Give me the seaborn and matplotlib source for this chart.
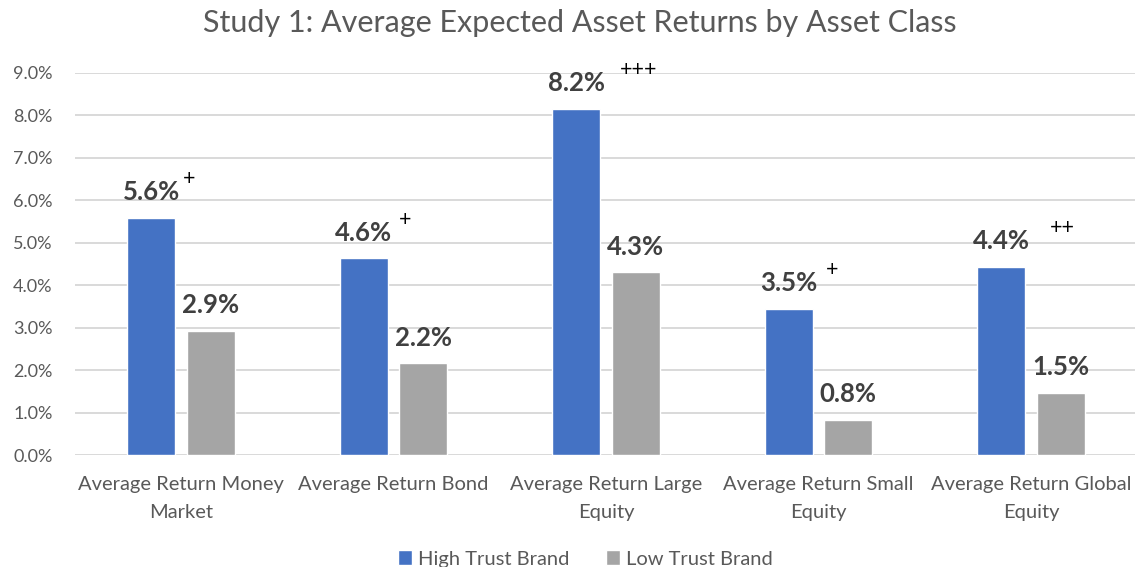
"""Study 1 chart: average expected asset returns by asset class and brand trust."""

import textwrap

import matplotlib.pyplot as plt
import pandas as pd
import seaborn as sns
from matplotlib.patches import Patch
from matplotlib.ticker import FuncFormatter

# ── Data ─────────────────────────────────────────────────────────────────────
categories = [
    "Average Return Money Market",
    "Average Return Bond",
    "Average Return Large Equity",
    "Average Return Small Equity",
    "Average Return Global Equity",
]
brands = ["High Trust Brand", "Low Trust Brand"]
high_trust = [5.59, 4.63, 8.15, 3.45, 4.44]   # percent
low_trust = [2.93, 2.16, 4.30, 0.84, 1.47]    # percent
significance = ["+", "+", "+++", "+", "++"]
y_ticks = list(range(0, 10))

# ── Style ────────────────────────────────────────────────────────────────────
BLUE = "#4472C4"
GRAY = "#A5A5A5"
TEXT = "#595959"
LABEL = "#404040"
GRID = "#D9D9D9"
sig_dx = [27, 30, 45, 31, 44]  # horizontal offset of the "+" marks, points

sns.set_theme(style="white")
plt.rcParams["font.family"] = ["Lato", "DejaVu Sans"]

df = pd.DataFrame({
    "category": categories * 2,
    "brand": [brands[0]] * len(categories) + [brands[1]] * len(categories),
    "value": high_trust + low_trust,
})

W, H = 1135, 567
fig = plt.figure(figsize=(W / 100, H / 100), dpi=100)
ax = fig.add_axes([74.75 / W, 111.8 / H, 1062.5 / W, 382.5 / H])

sns.barplot(
    data=df, x="category", y="value", hue="brand",
    palette=[BLUE, GRAY], saturation=1, width=0.56, gap=0.2,
    ax=ax, errorbar=None,
)

# value labels
for cont in ax.containers:
    ax.bar_label(cont, fmt="{:.1f}%", padding=10, fontsize=18.5,
                 fontweight="bold", color=LABEL)

# significance marks next to the high-trust labels
for bar, mark, dx in zip(ax.containers[0], significance, sig_dx):
    ax.annotate(
        mark, (bar.get_x() + bar.get_width() / 2, bar.get_height()),
        xytext=(dx, 28), textcoords="offset points",
        ha="center", va="center", fontsize=15.5, color="black",
    )

# axes
ax.set_ylim(0, 9)
ax.set_yticks(y_ticks)
ax.yaxis.set_major_formatter(FuncFormatter(lambda v, _: f"{v:.1f}%"))
ax.set_xticks(range(len(categories)))
ax.set_xticklabels([textwrap.fill(c, 21) for c in categories])
ax.set_xlabel("")
ax.set_ylabel("")
ax.tick_params(axis="y", length=0, labelsize=13, labelcolor=TEXT, pad=16)
ax.tick_params(axis="x", length=0, labelsize=14.5, labelcolor=TEXT, pad=15)
for t in ax.get_xticklabels():
    t.set_linespacing(1.75)
ax.yaxis.grid(True, color=GRID, linewidth=1.4)
ax.set_axisbelow(True)
for spine in ax.spines.values():
    spine.set_visible(False)

fig.text(0.511, 1 - 23 / H, "Study 1: Average Expected Asset Returns by Asset Class",
         ha="center", va="center", fontsize=22, color=TEXT)

ax.get_legend().remove()
handles = [Patch(facecolor=BLUE, label=brands[0]),
           Patch(facecolor=GRAY, label=brands[1])]
fig.legend(handles=handles, loc="center", bbox_to_anchor=(0.516, 8 / H),
           ncol=2, frameon=False, fontsize=14.5, labelcolor=TEXT,
           handlelength=0.7, handleheight=0.7, handletextpad=0.3,
           columnspacing=1.8)

fig.savefig("out.png", dpi=100)
plt.close(fig)
